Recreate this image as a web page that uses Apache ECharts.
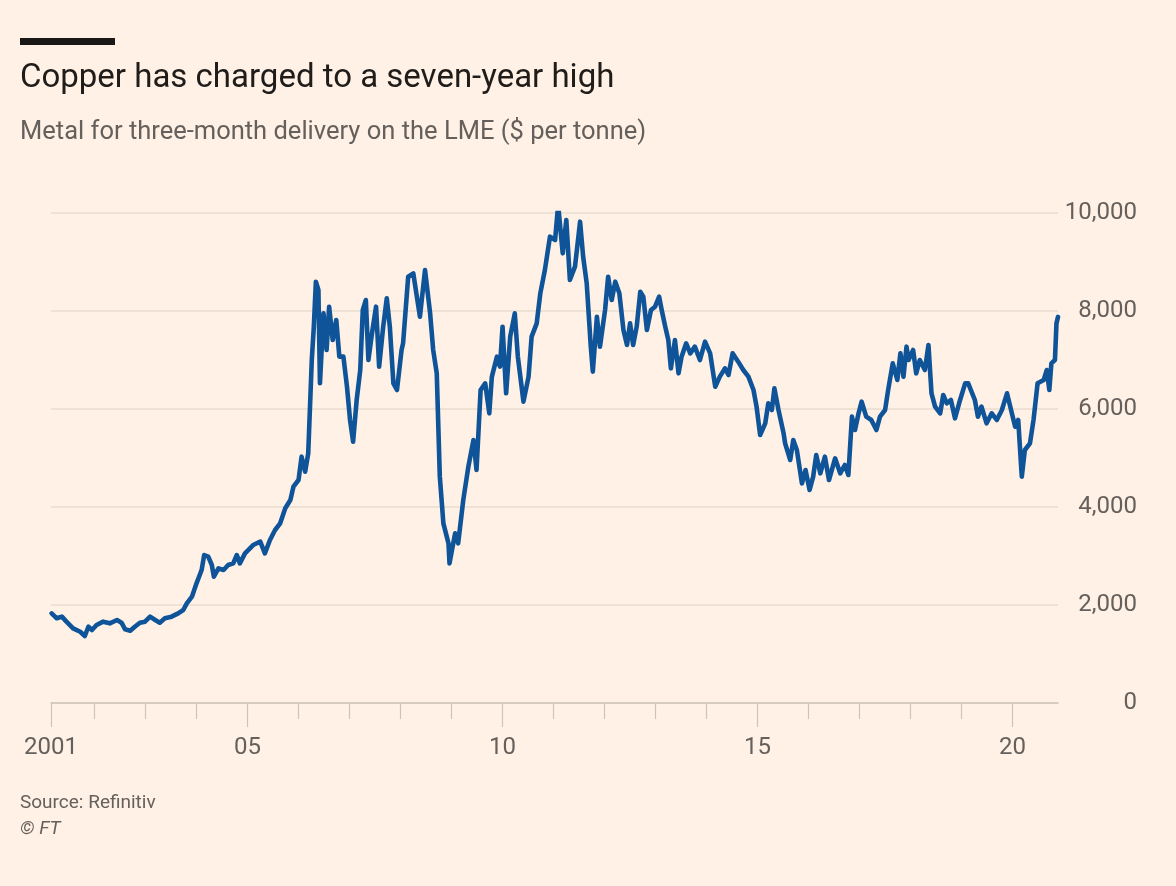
<!DOCTYPE html>
<html>
<head>
<meta charset="utf-8">
<script src="https://cdn.jsdelivr.net/npm/echarts@6/dist/echarts.min.js"></script>
<style>
  html, body { margin: 0; padding: 0; background: #fff1e5; }
  #chart { width: 1176px; height: 886px; }
</style>
</head>
<body>
<div id="chart"></div>
<script>
// ---- Data ----
// Dates as decimal years, LME 3-month copper price in $ per tonne
const dates = [
  2001.16, 2001.26, 2001.36, 2001.45, 2001.58, 2001.72, 2001.81, 2001.88, 2001.95,
  2002.04, 2002.17, 2002.30, 2002.44, 2002.53, 2002.60, 2002.70, 2002.79, 2002.89, 2002.99,
  2003.09, 2003.19, 2003.28, 2003.38, 2003.51, 2003.64, 2003.74, 2003.81, 2003.91,
  2004.00, 2004.10, 2004.15, 2004.23, 2004.30, 2004.34, 2004.43, 2004.53, 2004.62, 2004.72, 2004.79, 2004.85, 2004.95,
  2005.11, 2005.25, 2005.34, 2005.44, 2005.54, 2005.64, 2005.74, 2005.84, 2005.90,
  2006.00, 2006.06, 2006.13, 2006.19, 2006.26, 2006.30, 2006.34, 2006.39, 2006.42, 2006.49, 2006.55, 2006.60, 2006.67, 2006.74, 2006.80, 2006.88, 2006.95,
  2007.01, 2007.07, 2007.14, 2007.21, 2007.26, 2007.32, 2007.37, 2007.44, 2007.52, 2007.58, 2007.66, 2007.73, 2007.79, 2007.86, 2007.93,
  2008.02, 2008.05, 2008.15, 2008.25, 2008.32, 2008.38, 2008.48, 2008.58, 2008.64, 2008.71, 2008.77, 2008.84, 2008.94, 2008.96,
  2009.07, 2009.13, 2009.23, 2009.33, 2009.43, 2009.49, 2009.57, 2009.66, 2009.74, 2009.79, 2009.89, 2009.95,
  2010.00, 2010.07, 2010.15, 2010.24, 2010.30, 2010.41, 2010.51, 2010.57, 2010.67, 2010.74, 2010.83, 2010.93,
  2011.03, 2011.09, 2011.18, 2011.25, 2011.32, 2011.42, 2011.52, 2011.58, 2011.65, 2011.73, 2011.77, 2011.85, 2011.91,
  2012.01, 2012.07, 2012.14, 2012.21, 2012.29, 2012.37, 2012.44, 2012.50, 2012.56, 2012.63, 2012.70, 2012.76, 2012.83, 2012.91, 2012.99,
  2013.07, 2013.12, 2013.19, 2013.25, 2013.30, 2013.38, 2013.45, 2013.51, 2013.60, 2013.68, 2013.77, 2013.87, 2013.97,
  2014.07, 2014.17, 2014.26, 2014.36, 2014.43, 2014.51, 2014.62, 2014.72, 2014.82, 2014.92, 2014.98,
  2015.05, 2015.15, 2015.21, 2015.28, 2015.33, 2015.41, 2015.51, 2015.54, 2015.64, 2015.70, 2015.77, 2015.87, 2015.94,
  2016.02, 2016.09, 2016.15, 2016.23, 2016.32, 2016.40, 2016.52, 2016.62, 2016.71, 2016.78, 2016.85, 2016.91, 2016.98,
  2017.04, 2017.13, 2017.23, 2017.33, 2017.40, 2017.50, 2017.56, 2017.65, 2017.74, 2017.80, 2017.86, 2017.92, 2017.96,
  2018.05, 2018.11, 2018.18, 2018.28, 2018.35, 2018.41, 2018.48, 2018.58, 2018.64, 2018.71, 2018.79, 2018.87, 2018.97,
  2019.07, 2019.13, 2019.26, 2019.32, 2019.39, 2019.49, 2019.59, 2019.69, 2019.79, 2019.89,
  2020.05, 2020.11, 2020.18, 2020.24, 2020.34, 2020.41, 2020.49, 2020.61, 2020.67, 2020.72, 2020.76, 2020.83, 2020.86, 2020.89
];
const prices = [
  1830, 1729, 1762, 1660, 1524, 1455, 1367, 1557, 1490,
  1592, 1660, 1626, 1694, 1639, 1504, 1476, 1557, 1639, 1660,
  1762, 1694, 1639, 1729, 1762, 1830, 1898, 2034, 2170,
  2442, 2714, 3020, 2986, 2816, 2578, 2748, 2714, 2816, 2850, 3020, 2850, 3054,
  3224, 3292, 3054, 3326, 3531, 3667, 3973, 4143, 4415,
  4551, 5027, 4721, 5095, 7000, 7680, 8598, 8429, 6524, 7952, 7204, 8088, 7408, 7816, 7068, 7068, 6455,
  5776, 5333, 6184, 6796, 8020, 8224, 7000, 7544, 8088, 6864, 7680, 8258, 7680, 6524, 6388,
  7204, 7340, 8700, 8769, 8292, 7884, 8837, 7952, 7204, 6728, 4619, 3667, 3259, 2850,
  3463, 3259, 4143, 4823, 5367, 4755, 6388, 6524, 5912, 6655, 7068, 6864,
  7680, 6320, 7476, 7952, 7068, 6150, 6660, 7476, 7748, 8360, 8837, 9517,
  9450, 10163, 9177, 9857, 8633, 8905, 9823, 9109, 8565, 7272, 6762, 7884, 7272,
  8020, 8700, 8224, 8598, 8361, 7612, 7306, 7748, 7306, 7680, 8394, 8292, 7612, 8020, 8088,
  8292, 8020, 7680, 7408, 6830, 7408, 6728, 7068, 7340, 7136, 7272, 7000, 7374,
  7136, 6455, 6660, 6830, 6694, 7136, 6966, 6796, 6660, 6388, 6048,
  5469, 5708, 6116, 5980, 6422, 5980, 5504, 5300, 4959, 5367, 5163, 4483, 4755,
  4347, 4619, 5061, 4687, 5027, 4551, 4993, 4687, 4857, 4653, 5844, 5571, 5912,
  6150, 5844, 5776, 5571, 5844, 5980, 6388, 6932, 6592, 7136, 6660, 7272, 7000,
  7204, 6728, 7000, 6796, 7306, 6320, 6048, 5912, 6286, 6116, 6184, 5810, 6184,
  6524, 6524, 6184, 5844, 6048, 5708, 5912, 5776, 5980, 6320,
  5639, 5776, 4619, 5163, 5300, 5776, 6524, 6592, 6796, 6388, 6932, 7000, 7748, 7880
];

// Axis ticks and labels
const xMin = 2001.147;
const xMax = 2020.89;
const xMinorTicks = [2002, 2003, 2004, 2006, 2007, 2008, 2009, 2011, 2012, 2013, 2014, 2016, 2017, 2018, 2019];
const xMajorTicks = [2001.147, 2005, 2010, 2015, 2020];
const xTickLabels = ['2001', '05', '10', '15', '20'];

const titleText = 'Copper has charged to a seven-year high';
const subtitleText = 'Metal for three-month delivery on the LME ($ per tonne)';
const sourceText = 'Source: Refinitiv';
const creditText = '© FT';

// ---- Chart ----
const FONT = 'Roboto, "Open Sans", sans-serif';
const chart = echarts.init(document.getElementById('chart'), null, { renderer: 'canvas' });

const seriesData = dates.map((d, i) => [d, prices[i]]);

const option = {
  backgroundColor: '#fff1e5',
  animation: false,
  textStyle: { fontFamily: FONT },
  grid: {
    left: 51, right: 118, top: 213, bottom: 183,
    containLabel: false,
    outerBoundsMode: 'none'
  },
  xAxis: [
    {
      type: 'value', min: xMin, max: xMax,
      axisLine: { show: true, lineStyle: { color: '#cdc4bb', width: 1.5 } },
      axisTick: { show: true, customValues: xMinorTicks, length: 16, lineStyle: { color: '#cdc4bb', width: 1.2 } },
      axisLabel: { show: false },
      splitLine: { show: false }
    },
    {
      type: 'value', min: xMin, max: xMax, position: 'bottom', offset: 0,
      axisLine: { show: false },
      axisTick: { show: true, customValues: xMajorTicks, length: 24, lineStyle: { color: '#cdc4bb', width: 1.2 } },
      axisLabel: {
        show: true, customValues: xMajorTicks,
        color: '#66605c', fontSize: 24, fontFamily: FONT, margin: 33,
        formatter: (v) => {
          const i = xMajorTicks.findIndex(t => Math.abs(t - v) < 1e-6);
          return i >= 0 ? xTickLabels[i] : '';
        }
      },
      splitLine: { show: false }
    }
  ],
  yAxis: {
    type: 'value', position: 'right', min: 0, max: 10000, interval: 2000,
    axisLine: { show: false },
    axisTick: { show: false },
    axisLabel: {
      color: '#66605c', fontSize: 24, fontFamily: FONT,
      align: 'right', margin: 79,
      formatter: (v) => v.toLocaleString('en-US')
    },
    splitLine: { show: true, lineStyle: { color: '#e8dccf', width: 1.5 } }
  },
  series: [{
    type: 'line',
    xAxisIndex: 0,
    data: seriesData,
    showSymbol: false,
    symbol: 'none',
    lineStyle: { color: '#0f5499', width: 4.6, join: 'round', cap: 'round' },
    z: 5
  }],
  graphic: [
    { type: 'rect', shape: { x: 20, y: 38, width: 95, height: 7 }, style: { fill: '#1a1817' } },
    { type: 'text', style: { x: 20, y: 79, text: titleText, font: '33px ' + FONT, fill: '#1f1c1a', textVerticalAlign: 'middle' } },
    { type: 'text', style: { x: 20, y: 133, text: subtitleText, font: '25.5px ' + FONT, fill: '#66605c', textVerticalAlign: 'middle' } },
    { type: 'text', style: { x: 20, y: 803, text: sourceText, font: '19px ' + FONT, fill: '#66605c', textVerticalAlign: 'middle' } },
    { type: 'text', style: { x: 20, y: 829, text: creditText, font: 'italic 19px ' + FONT, fill: '#66605c', textVerticalAlign: 'middle' } }
  ]
};
chart.setOption(option);
</script>
</body>
</html>
